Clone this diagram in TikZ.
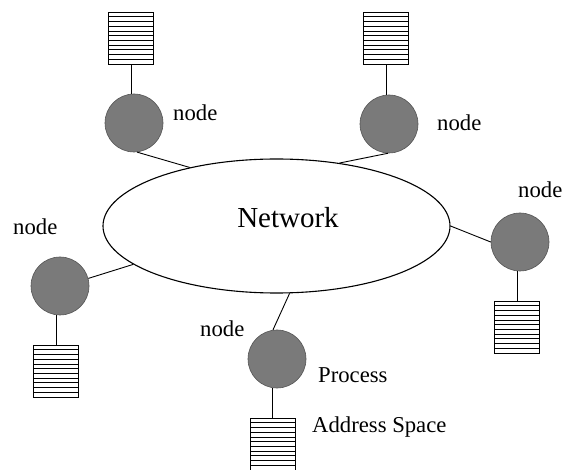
\documentclass[tikz,border=0pt]{standalone}
\usepackage{fontspec}
\setmainfont{Liberation Serif}
\usetikzlibrary{shapes.geometric,calc}

\definecolor{discgray}{RGB}{122,122,122}
\definecolor{discrim}{RGB}{85,85,85}

\tikzset{
  disc/.style={circle, minimum size=58pt, inner sep=0pt, fill=discgray, draw=discrim, line width=0.6pt},
  addrbox/.style={rectangle, minimum width=45pt, minimum height=52pt, inner sep=0pt,
    draw=black, line width=0.9pt,
    path picture={
      \foreach \k in {1,...,10}{
        \draw[line width=0.7pt]
          ($(path picture bounding box.north west)!\k/11!(path picture bounding box.south west)$) --
          ($(path picture bounding box.north east)!\k/11!(path picture bounding box.south east)$);
      }
    }},
  link/.style={line width=0.9pt},
  lbl/.style={anchor=base west, inner sep=0pt, font=\fontsize{22.7}{27}\selectfont},
  netlbl/.style={anchor=base, inner sep=0pt, font=\fontsize{29}{34}\selectfont}
}

\begin{document}
\begin{tikzpicture}[x=1pt, y=-1pt]
  \useasboundingbox[fill=white] (0,0) rectangle (565,470);

  % central network
  \node[ellipse, draw, line width=1.1pt, minimum width=347pt, minimum height=134pt, inner sep=0pt] (net) at (276.5,226) {};
  \node[netlbl] (netlabel) at (288,228) {Network};

  % processor discs
  \node[disc] (c1) at (134,123) {};
  \node[disc] (c2) at (389,124) {};
  \node[disc] (c3) at (520,242) {};
  \node[disc] (c4) at (60,286) {};
  \node[disc] (c5) at (277,359) {};

  % address-space boxes
  \node[addrbox] (b1) at (131,38) {};
  \node[addrbox] (b2) at (386,38) {};
  \node[addrbox] (b3) at (517,327) {};
  \node[addrbox] (b4) at (56,371) {};
  \node[addrbox] (b5) at (272.5,444) {};

  % disc to address space
  \draw[link] (b1.south) -- (b1.south |- c1.north);
  \draw[link] (b2.south) -- (b2.south |- c2.north);
  \draw[link] (b3.north) -- (b3.north |- c3.south);
  \draw[link] (b4.north) -- (b4.north |- c4.south);
  \draw[link] (b5.north) -- (b5.north |- c5.south);

  % disc to network
  \draw[link] (net.146.6) -- (c1.-84);
  \draw[link] (net.45.9) -- (c2.-92);
  \draw[link] (net.-0.3) -- (c3.west);
  \draw[link] (net.195.5) -- (c4.15);
  \draw[link] (net.281) -- (c5.98);

  % labels
  \node[lbl] (l1) at (173,121) {node};
  \node[lbl] (l2) at (437,131) {node};
  \node[lbl] (l3) at (518,198) {node};
  \node[lbl] (l4) at (13,235) {node};
  \node[lbl] (l5) at (200,337) {node};
  \node[lbl] (lp) at (318,382) {Process};
  \node[lbl] (la) at (312,432) {Address Space};
\end{tikzpicture}
\end{document}
